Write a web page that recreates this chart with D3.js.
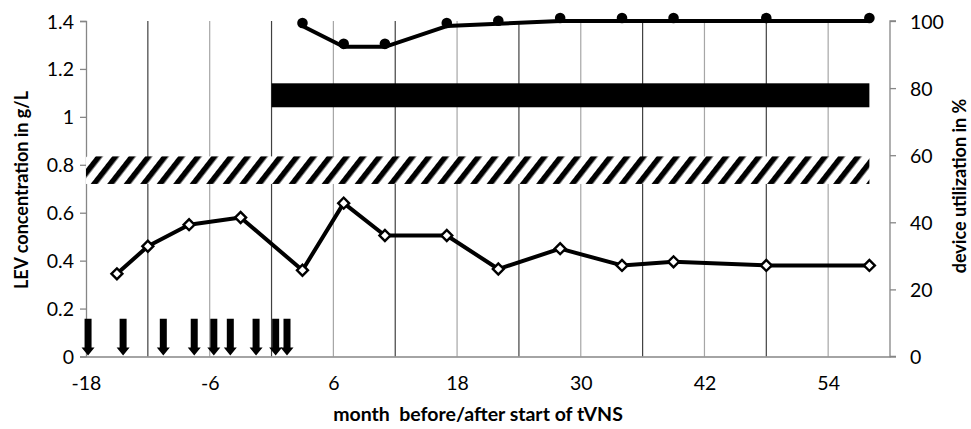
<!DOCTYPE html>
<html>
<head>
<meta charset="utf-8">
<script src="https://cdn.jsdelivr.net/npm/d3@7"></script>
<style>
  body { margin: 0; background: #fff; }
  text { font-family: Lato, "Open Sans", sans-serif; fill: #000; }
</style>
</head>
<body>
<div id="chart"></div>
<script>
// chart values
var levMonths = [-15, -12, -8, -3, 3, 7, 11, 17, 22, 28, 34, 39, 48, 58];
var levValues = [0.345, 0.46, 0.55, 0.58, 0.36, 0.64, 0.505, 0.505, 0.365, 0.45, 0.38, 0.395, 0.38, 0.38];

var useMonths = [3, 7, 11, 17, 22, 28, 34, 39, 48, 58];
var useValues = [98.5, 92.3, 92.3, 98.5, 99.2, 100, 100, 100, 100, 100];

var seizureMonths = [-17.8, -14.4, -10.5, -7.5, -5.6, -4, -1.5, 0.4, 1.5];

var tvnsPeriod = { start: 0, end: 58, low: 1.04, high: 1.14 };
var refRange = { start: -18, end: 58, low: 0.72, high: 0.835 };

var xTicks = [-18, -6, 6, 18, 30, 42, 54];
var yLeftTicks = [0, 0.2, 0.4, 0.6, 0.8, 1, 1.2, 1.4];
var yRightTicks = [0, 20, 40, 60, 80, 100];

var svgWidth = 971;
var svgHeight = 429;

var margin = { top: 21, right: 81, bottom: 72.5, left: 86 };
var width = svgWidth - margin.left - margin.right;
var height = svgHeight - margin.top - margin.bottom;

var svg = d3.select("#chart")
  .append("svg")
  .attr("width", svgWidth)
  .attr("height", svgHeight);

// hatch pattern for the reference band
var defs = svg.append("defs");
var pat = defs.append("pattern")
  .attr("id", "hatch")
  .attr("patternUnits", "userSpaceOnUse")
  .attr("width", 13)
  .attr("height", 13)
  .attr("patternTransform", "rotate(38)");
pat.append("rect").attr("width", 13).attr("height", 13).attr("fill", "#fff");
pat.append("rect").attr("x", 0).attr("width", 5.5).attr("height", 13).attr("fill", "#000");

var chartGroup = svg.append("g")
  .attr("transform", `translate(${margin.left}, ${margin.top})`);

var x = d3.scaleLinear().domain([-18, 60]).range([0, width]);
var yLeft = d3.scaleLinear().domain([0, 1.4]).range([height, 0]);
var yRight = d3.scaleLinear().domain([0, 100]).range([height, 0]);

// vertical gridlines every 6 months
var gridMonths = d3.range(-12, 60, 6);
chartGroup.selectAll(".grid")
  .data(gridMonths)
  .enter()
  .append("line")
  .attr("x1", d => x(d))
  .attr("x2", d => x(d))
  .attr("y1", 0)
  .attr("y2", height)
  .attr("stroke", d => (d % 12 === 0) ? "#404040" : "#a6a6a6")
  .attr("stroke-width", 1.2);

// axes
var axisColor = "#868686";
var bottomAxis = d3.axisBottom(x).tickValues(xTicks).tickSize(0).tickPadding(20)
  .tickFormat(d => String(d));
var leftAxis = d3.axisLeft(yLeft).tickValues(yLeftTicks).tickSize(6).tickPadding(6)
  .tickFormat(d => d === 0 || d === 1 ? String(d) : d3.format(".1f")(d));
var rightAxis = d3.axisRight(yRight).tickValues(yRightTicks).tickSize(6).tickPadding(14);

function styleAxis(g) {
  g.select(".domain").attr("stroke", axisColor).attr("stroke-width", 1.3);
  g.selectAll(".tick line").attr("stroke", axisColor).attr("stroke-width", 1.3);
  g.selectAll(".tick text").attr("font-size", "19.5px").attr("fill", "#000")
    .style("font-family", "Lato, 'Open Sans', sans-serif");
}

chartGroup.append("g")
  .attr("transform", `translate(0, ${height})`)
  .call(bottomAxis)
  .call(styleAxis)
  .call(g => g.selectAll(".tick text").attr("dy", "0.71em"));

chartGroup.append("g")
  .call(leftAxis)
  .call(styleAxis)
  .call(g => g.selectAll(".tick text").attr("dy", "0.36em"));

chartGroup.append("g")
  .attr("transform", `translate(${width}, 0)`)
  .call(rightAxis)
  .call(styleAxis)
  .call(g => g.select(".domain").attr("d", `M6,0H0V${height}H6`))
  .call(g => g.selectAll(".tick text").attr("dy", "0.36em"));

// hatched reference band
chartGroup.append("rect")
  .attr("x", x(refRange.start))
  .attr("width", x(refRange.end) - x(refRange.start))
  .attr("y", yLeft(refRange.high))
  .attr("height", yLeft(refRange.low) - yLeft(refRange.high))
  .attr("fill", "url(#hatch)");

// black tVNS bar
chartGroup.append("rect")
  .attr("x", x(tvnsPeriod.start))
  .attr("width", x(tvnsPeriod.end) - x(tvnsPeriod.start))
  .attr("y", yLeft(tvnsPeriod.high))
  .attr("height", yLeft(tvnsPeriod.low) - yLeft(tvnsPeriod.high))
  .attr("fill", "#000");

// seizure arrows
var arrowTop = yLeft(0.158);
chartGroup.selectAll(".arrow")
  .data(seizureMonths)
  .enter()
  .append("path")
  .attr("d", function(d) {
    var cx = x(d), b = height - 1;
    return `M${cx - 3.5},${arrowTop}H${cx + 3.5}V${b - 8}H${cx + 6.5}L${cx},${b}L${cx - 6.5},${b - 8}H${cx - 3.5}Z`;
  })
  .attr("fill", "#000");

// LEV concentration line
var levData = levMonths.map((m, i) => ({ m: m, v: levValues[i] }));
var levLine = d3.line().x(d => x(d.m)).y(d => yLeft(d.v));
chartGroup.append("path")
  .datum(levData)
  .attr("d", levLine)
  .attr("fill", "none")
  .attr("stroke", "#000")
  .attr("stroke-width", 4)
  .attr("stroke-linejoin", "round");

chartGroup.selectAll(".diamond")
  .data(levData)
  .enter()
  .append("path")
  .attr("d", d3.symbol().type(d3.symbolSquare).size(60))
  .attr("transform", d => `translate(${x(d.m)}, ${yLeft(d.v)}) rotate(45)`)
  .attr("fill", "#fff")
  .attr("stroke", "#000")
  .attr("stroke-width", 2.4);

// device utilization line
var useData = useMonths.map((m, i) => ({ m: m, v: useValues[i] }));
var useLine = d3.line().x(d => x(d.m)).y(d => yRight(d.v));
chartGroup.append("path")
  .datum(useData)
  .attr("d", useLine)
  .attr("fill", "none")
  .attr("stroke", "#000")
  .attr("stroke-width", 4)
  .attr("stroke-linejoin", "round");

chartGroup.selectAll(".dot")
  .data(useData)
  .enter()
  .append("circle")
  .attr("cx", d => x(d.m))
  .attr("cy", d => yRight(d.v) - 3)
  .attr("r", 5.3)
  .attr("fill", "#000");

// axis titles
svg.append("text")
  .attr("transform", `translate(28, 190) rotate(-90)`)
  .attr("text-anchor", "middle")
  .attr("font-size", "18px")
  .attr("font-weight", "bold")
  .text("LEV concentration in g/L");

svg.append("text")
  .attr("transform", `translate(966, 186) rotate(-90)`)
  .attr("text-anchor", "middle")
  .attr("font-size", "18px")
  .attr("font-weight", "bold")
  .text("device utilization in %");

svg.append("text")
  .attr("x", 478)
  .attr("y", 421)
  .attr("text-anchor", "middle")
  .attr("font-size", "19.5px")
  .attr("font-weight", "bold")
  .attr("xml:space", "preserve")
  .style("white-space", "pre")
  .text("month  before/after start of tVNS");
</script>
</body>
</html>
